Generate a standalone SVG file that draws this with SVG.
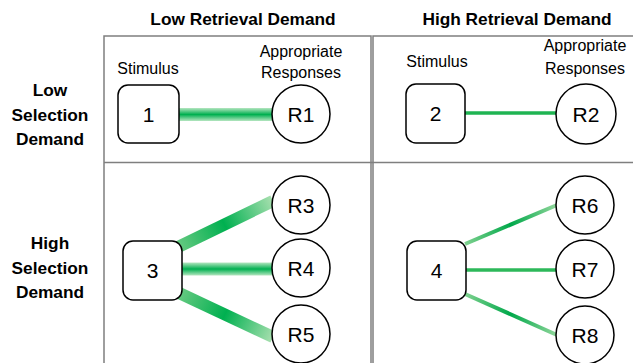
<svg xmlns="http://www.w3.org/2000/svg" width="633" height="363" viewBox="0 0 633 363">
<style>
.grid{stroke:#7f7f7f;stroke-width:1.5;fill:none}
.box{fill:#fff;stroke:#000;stroke-width:1.5}
.resp{fill:#fff;stroke:#000;stroke-width:1.5}
.nt{font-family:"Liberation Sans",Arial,sans-serif;font-size:21px;fill:#000;text-anchor:middle}
.lab{font-family:"Liberation Sans",Arial,sans-serif;font-size:16px;fill:#000;text-anchor:middle}
.hd{font-family:"Liberation Sans",Arial,sans-serif;font-size:17.3px;font-weight:bold;fill:#000;text-anchor:middle}
</style>
<defs>
<linearGradient id="gv1" gradientUnits="userSpaceOnUse" x1="0" y1="108" x2="0" y2="121">
<stop offset="0" stop-color="#b5e6c0"/><stop offset="0.5" stop-color="#00b050"/><stop offset="1" stop-color="#b5e6c0"/>
</linearGradient>
<linearGradient id="gv4" gradientUnits="userSpaceOnUse" x1="0" y1="262.5" x2="0" y2="275.5">
<stop offset="0" stop-color="#b5e6c0"/><stop offset="0.5" stop-color="#00b050"/><stop offset="1" stop-color="#b5e6c0"/>
</linearGradient>
<linearGradient id="g3" gradientUnits="userSpaceOnUse" x1="176" y1="248" x2="273" y2="201">
<stop offset="0" stop-color="#6ccb84"/><stop offset="0.5" stop-color="#00b050"/><stop offset="1" stop-color="#a6dfae"/>
</linearGradient>
<linearGradient id="g5" gradientUnits="userSpaceOnUse" x1="177" y1="292" x2="273" y2="337">
<stop offset="0" stop-color="#6ccb84"/><stop offset="0.5" stop-color="#00b050"/><stop offset="1" stop-color="#a6dfae"/>
</linearGradient>
<linearGradient id="g6" gradientUnits="userSpaceOnUse" x1="465" y1="244" x2="556" y2="205">
<stop offset="0" stop-color="#7fd18f"/><stop offset="0.5" stop-color="#00a84a"/><stop offset="1" stop-color="#8fd69a"/>
</linearGradient>
<linearGradient id="g8" gradientUnits="userSpaceOnUse" x1="465" y1="294" x2="556" y2="335">
<stop offset="0" stop-color="#7fd18f"/><stop offset="0.5" stop-color="#00a84a"/><stop offset="1" stop-color="#8fd69a"/>
</linearGradient>
</defs>

<g id="grid">
<path class="grid" d="M104,363 V36 H371 V363 M373,363 V36 H633 M104,162.5 H633"/>
</g>

<g id="headers">
<text class="hd" x="243" y="25">Low Retrieval Demand</text>
<text class="hd" x="517" y="25">High Retrieval Demand</text>
<text class="hd" x="50" y="96">Low</text>
<text class="hd" x="50" y="121">Selection</text>
<text class="hd" x="50" y="145">Demand</text>
<text class="hd" x="50" y="249">High</text>
<text class="hd" x="50" y="274">Selection</text>
<text class="hd" x="50" y="298">Demand</text>
</g>

<g id="labels">
<text class="lab" x="148" y="74">Stimulus</text>
<text class="lab" x="301" y="57">Appropriate</text>
<text class="lab" x="301" y="78">Responses</text>
<text class="lab" x="437" y="67">Stimulus</text>
<text class="lab" x="585" y="51">Appropriate</text>
<text class="lab" x="585" y="74">Responses</text>
</g>

<g id="connectors">
<line id="c1" x1="179" y1="114.5" x2="273" y2="114.5" stroke="url(#gv1)" stroke-width="13"/>
<line id="c2" x1="465" y1="113" x2="556" y2="113" stroke="#1fb452" stroke-width="3.5"/>
<line id="c3" x1="176" y1="248" x2="273" y2="201" stroke="url(#g3)" stroke-width="12"/>
<line id="c4" x1="182" y1="269" x2="273" y2="269" stroke="url(#gv4)" stroke-width="13"/>
<line id="c5" x1="177" y1="292" x2="273" y2="337" stroke="url(#g5)" stroke-width="12"/>
<line id="c6" x1="465" y1="244" x2="557" y2="205" stroke="url(#g6)" stroke-width="4"/>
<line id="c7" x1="466" y1="270" x2="557" y2="270" stroke="#2db85a" stroke-width="3.5"/>
<line id="c8" x1="465" y1="294" x2="557" y2="335" stroke="url(#g8)" stroke-width="4"/>
</g>

<g id="s1"><rect class="box" x="118" y="85" width="61" height="58" rx="10"/><text class="nt" x="148.5" y="121.5">1</text></g>
<g id="s2"><rect class="box" x="406" y="84" width="59" height="59" rx="10"/><text class="nt" x="435.5" y="121">2</text></g>
<g id="s3"><rect class="box" x="123" y="241" width="59" height="59" rx="10"/><text class="nt" x="152.5" y="278">3</text></g>
<g id="s4"><rect class="box" x="407" y="241" width="59" height="59" rx="10"/><text class="nt" x="436.5" y="278">4</text></g>

<g id="R1"><circle class="resp" cx="301" cy="114" r="29"/><text class="nt" x="301" y="121.5">R1</text></g>
<g id="R2"><circle class="resp" cx="586" cy="114" r="30"/><text class="nt" x="586" y="121.5">R2</text></g>
<g id="R3"><circle class="resp" cx="301" cy="205" r="29"/><text class="nt" x="301" y="212.5">R3</text></g>
<g id="R4"><circle class="resp" cx="301" cy="268" r="29"/><text class="nt" x="301" y="275.5">R4</text></g>
<g id="R5"><circle class="resp" cx="301" cy="334" r="29"/><text class="nt" x="301" y="341.5">R5</text></g>
<g id="R6"><circle class="resp" cx="585" cy="205" r="29"/><text class="nt" x="585" y="212.5">R6</text></g>
<g id="R7"><circle class="resp" cx="585" cy="269" r="29"/><text class="nt" x="585" y="276.5">R7</text></g>
<g id="R8"><circle class="resp" cx="585" cy="335" r="29"/><text class="nt" x="585" y="342.5">R8</text></g>
</svg>
